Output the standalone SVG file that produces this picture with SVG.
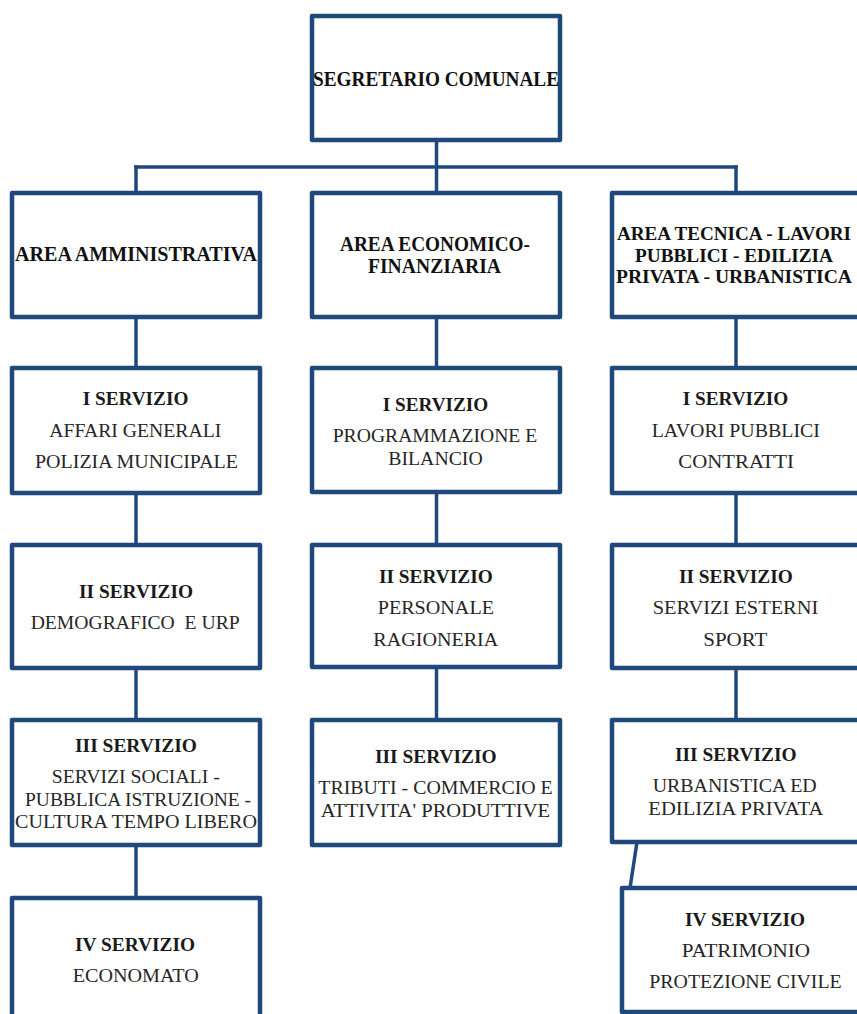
<svg xmlns="http://www.w3.org/2000/svg" width="857" height="1014" viewBox="0 0 857 1014">
<style>
.box{fill:#fff;stroke:#1F497D;stroke-width:4.5;stroke-linejoin:round}
.conn line{stroke:#1F497D;stroke-width:3.5;stroke-linecap:square}
text{font-family:"Liberation Serif","DejaVu Serif",serif;fill:#2a2a2a}
.h{font-weight:bold;font-size:20px;fill:#111}
.hs{font-size:19px}
.t{font-weight:bold;font-size:18.5px;fill:#1a1a1a}
.r{font-size:18px;fill:#262626}
</style>
<rect width="857" height="1014" fill="#fff"/>
<g id="connectors" class="conn">
<line x1="436.5" y1="140" x2="436.5" y2="193"/>
<line x1="136" y1="167" x2="736" y2="167"/>
<line x1="136" y1="167" x2="136" y2="193"/>
<line x1="736" y1="167" x2="736" y2="193"/>
<line x1="136" y1="317" x2="136" y2="368"/>
<line x1="136" y1="493" x2="136" y2="545"/>
<line x1="136" y1="668" x2="136" y2="720"/>
<line x1="136" y1="845" x2="136" y2="898"/>
<line x1="436.5" y1="317" x2="436.5" y2="368"/>
<line x1="436.5" y1="493" x2="436.5" y2="545"/>
<line x1="436.5" y1="668" x2="436.5" y2="720"/>
<line x1="736" y1="317" x2="736" y2="368"/>
<line x1="736" y1="493" x2="736" y2="545"/>
<line x1="736" y1="668" x2="736" y2="720"/>
<line x1="637" y1="842" x2="630" y2="888"/>
</g>
<g id="segretario">
<rect class="box" x="312" y="16" width="248" height="124"/>
<text class="h" x="313" y="86" textLength="246" lengthAdjust="spacingAndGlyphs">SEGRETARIO COMUNALE</text>
</g>
<g id="area-amministrativa">
<rect class="box" x="12" y="193" width="248" height="124"/>
<text class="h" x="15" y="261" textLength="242" lengthAdjust="spacingAndGlyphs">AREA AMMINISTRATIVA</text>
</g>
<g id="area-economico">
<rect class="box" x="312" y="193" width="248" height="124"/>
<text class="h" x="340" y="251" textLength="190" lengthAdjust="spacingAndGlyphs">AREA ECONOMICO-</text>
<text class="h" x="368" y="272.5" textLength="133" lengthAdjust="spacingAndGlyphs">FINANZIARIA</text>
</g>
<g id="area-tecnica">
<rect class="box" x="612" y="193" width="250" height="124"/>
<text class="h hs" x="617" y="240" textLength="234" lengthAdjust="spacingAndGlyphs">AREA TECNICA - LAVORI</text>
<text class="h hs" x="635" y="261.5" textLength="198" lengthAdjust="spacingAndGlyphs">PUBBLICI - EDILIZIA</text>
<text class="h hs" x="616" y="283" textLength="236" lengthAdjust="spacingAndGlyphs">PRIVATA - URBANISTICA</text>
</g>
<g id="amm-1">
<rect class="box" x="12" y="368" width="248" height="125"/>
<text class="t" x="82.7" y="405" textLength="105.7" lengthAdjust="spacingAndGlyphs">I SERVIZIO</text>
<text class="r" x="49.3" y="436.7" textLength="172" lengthAdjust="spacingAndGlyphs">AFFARI GENERALI</text>
<text class="r" x="35" y="468.3" textLength="203" lengthAdjust="spacingAndGlyphs">POLIZIA MUNICIPALE</text>
</g>
<g id="amm-2">
<rect class="box" x="12" y="545" width="248" height="123"/>
<text class="t" x="79" y="598.3" textLength="114" lengthAdjust="spacingAndGlyphs">II SERVIZIO</text>
<text class="r" x="30.7" y="629" textLength="209" lengthAdjust="spacingAndGlyphs" xml:space="preserve">DEMOGRAFICO  E URP</text>
</g>
<g id="amm-3">
<rect class="box" x="12" y="720" width="248" height="125"/>
<text class="t" x="75" y="751.7" textLength="122" lengthAdjust="spacingAndGlyphs">III SERVIZIO</text>
<text class="r" x="51.7" y="783.3" textLength="168" lengthAdjust="spacingAndGlyphs">SERVIZI SOCIALI -</text>
<text class="r" x="25" y="805.7" textLength="226" lengthAdjust="spacingAndGlyphs">PUBBLICA ISTRUZIONE -</text>
<text class="r" x="15" y="827.7" textLength="242" lengthAdjust="spacingAndGlyphs">CULTURA TEMPO LIBERO</text>
</g>
<g id="amm-4">
<rect class="box" x="12" y="898" width="248" height="124"/>
<text class="t" x="75" y="950.7" textLength="120" lengthAdjust="spacingAndGlyphs">IV SERVIZIO</text>
<text class="r" x="72.7" y="981.7" textLength="126" lengthAdjust="spacingAndGlyphs">ECONOMATO</text>
</g>
<g id="eco-1">
<rect class="box" x="312" y="368" width="248" height="124"/>
<text class="t" x="382.7" y="410.7" textLength="105.6" lengthAdjust="spacingAndGlyphs">I SERVIZIO</text>
<text class="r" x="332.7" y="441.7" textLength="204.6" lengthAdjust="spacingAndGlyphs">PROGRAMMAZIONE E</text>
<text class="r" x="388.3" y="465" textLength="94.4" lengthAdjust="spacingAndGlyphs">BILANCIO</text>
</g>
<g id="eco-2">
<rect class="box" x="312" y="545" width="248" height="122"/>
<text class="t" x="379" y="582.7" textLength="113.7" lengthAdjust="spacingAndGlyphs">II SERVIZIO</text>
<text class="r" x="377.7" y="614" textLength="116.3" lengthAdjust="spacingAndGlyphs">PERSONALE</text>
<text class="r" x="373.3" y="645.7" textLength="125" lengthAdjust="spacingAndGlyphs">RAGIONERIA</text>
</g>
<g id="eco-3">
<rect class="box" x="312" y="720" width="248" height="125"/>
<text class="t" x="375" y="763.3" textLength="121.7" lengthAdjust="spacingAndGlyphs">III SERVIZIO</text>
<text class="r" x="318.3" y="794.3" textLength="234.4" lengthAdjust="spacingAndGlyphs">TRIBUTI - COMMERCIO E</text>
<text class="r" x="320.7" y="816.7" textLength="229.3" lengthAdjust="spacingAndGlyphs">ATTIVITA' PRODUTTIVE</text>
</g>
<g id="tec-1">
<rect class="box" x="612" y="368" width="250" height="125"/>
<text class="t" x="682.7" y="405" textLength="105.6" lengthAdjust="spacingAndGlyphs">I SERVIZIO</text>
<text class="r" x="651.7" y="437.3" textLength="168.3" lengthAdjust="spacingAndGlyphs">LAVORI PUBBLICI</text>
<text class="r" x="678.3" y="468.3" textLength="115.7" lengthAdjust="spacingAndGlyphs">CONTRATTI</text>
</g>
<g id="tec-2">
<rect class="box" x="612" y="545" width="250" height="123"/>
<text class="t" x="679" y="582.7" textLength="113.7" lengthAdjust="spacingAndGlyphs">II SERVIZIO</text>
<text class="r" x="652.7" y="614" textLength="165.6" lengthAdjust="spacingAndGlyphs">SERVIZI ESTERNI</text>
<text class="r" x="703.3" y="645.7" textLength="64" lengthAdjust="spacingAndGlyphs">SPORT</text>
</g>
<g id="tec-3">
<rect class="box" x="612" y="720" width="250" height="122"/>
<text class="t" x="675" y="760.7" textLength="121.7" lengthAdjust="spacingAndGlyphs">III SERVIZIO</text>
<text class="r" x="652.7" y="791.7" textLength="164" lengthAdjust="spacingAndGlyphs">URBANISTICA ED</text>
<text class="r" x="648.3" y="815" textLength="175" lengthAdjust="spacingAndGlyphs">EDILIZIA PRIVATA</text>
</g>
<g id="tec-4">
<rect class="box" x="622" y="888" width="250" height="124"/>
<text class="t" x="685" y="926" textLength="120" lengthAdjust="spacingAndGlyphs">IV SERVIZIO</text>
<text class="r" x="681.7" y="956.7" textLength="128.3" lengthAdjust="spacingAndGlyphs">PATRIMONIO</text>
<text class="r" x="649.3" y="988.3" textLength="192.4" lengthAdjust="spacingAndGlyphs">PROTEZIONE CIVILE</text>
</g>
</svg>
